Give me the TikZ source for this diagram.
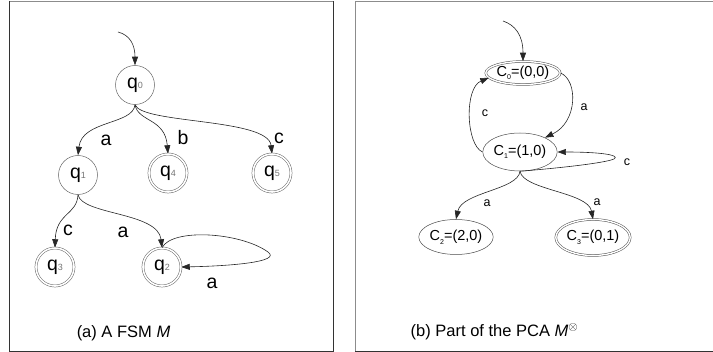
\documentclass[tikz,border=0pt]{standalone}
\usepackage{fontspec}
\setmainfont{Liberation Sans}
\usetikzlibrary{arrows.meta,shapes.geometric}
\newcommand{\myq}[1]{q\textcolor{black!55}{\fontsize{9}{9}\selectfont #1}}
\newcommand{\myc}[2]{C\raisebox{-3.5pt}{\fontsize{7}{7}\selectfont #1}=#2}
\begin{document}
\begin{tikzpicture}[x=1pt,y=-1pt,
  every node/.style={inner sep=0pt},
  st/.style={circle,draw=black!60,line width=0.5pt,minimum size=39pt,font=\fontsize{19.5}{19.5}\selectfont},
  acc/.style={st,double,double distance=1.6pt,minimum size=38pt},
  ell/.style={ellipse,draw=black!70,line width=0.5pt,font=\fontsize{14.5}{14.5}\selectfont},
  accell/.style={ell,double,double distance=1.4pt},
  edge/.style={draw=black!85,line width=0.6pt,-{Triangle[length=8.5pt,width=6pt]}},
  lab/.style={font=\fontsize{19.5}{19.5}\selectfont},
  slab/.style={font=\fontsize{12.5}{12.5}\selectfont},
  captext/.style={font=\fontsize{16.5}{16.5}\selectfont}]
\useasboundingbox (0,0) rectangle (713,352);
% frames
\draw[black!45,line width=0.8pt] (9,1) -- (333,1);
\draw[black!80,line width=0.8pt] (9,1) -- (9,351) -- (333,351) -- (333,1);
\draw[black!45,line width=0.8pt] (355,351) -- (355,1) -- (713,1);
\draw[black!80,line width=0.8pt] (355,351) -- (713,351);
% left panel
\node[st]  (q0) at (135,85)  {\myq{0}};
\node[st]  (q1) at (78,175)  {\myq{1}};
\node[acc] (q4) at (168,173) {\myq{4}};
\node[acc] (q5) at (272,173) {\myq{5}};
\node[acc] (q3) at (55,267)  {\myq{3}};
\node[acc] (q2) at (162,267) {\myq{2}};
\coordinate (i0) at (118,32);
\draw[edge] (i0) .. controls (130,35) and (135,45) .. (q0.north);
\draw[edge] (q0.south) .. controls (133,125) and (82,120) .. (q1.north);
\draw[edge] (q0.south) .. controls (138,122) and (165,118) .. (q4.north);
\draw[edge] (q0.south) .. controls (142,124) and (268,118) .. (q5.north);
\draw[edge] (q1.south) .. controls (77,215) and (56,213) .. (q3.north);
\draw[edge] (q1.south) .. controls (82,215) and (158,212) .. (q2.north);
\draw[edge] (q2.north) .. controls (172,228) and (240,232) .. (268,252)
  .. controls (282,262) and (230,266) .. (q2.east);
\node[lab] (la1) at (106,140) {a};
\node[lab] (lb)  at (183,138) {b};
\node[lab] (lc1) at (279,138) {c};
\node[lab] (lc2) at (68,230)  {c};
\node[lab] (la2) at (123,232) {a};
\node[lab] (la3) at (212,283) {a};
\node[captext] (capa) at (123.5,333) {(a) A FSM \textit{M}};
% right panel
\node[accell,minimum width=70pt,minimum height=23pt] (C0) at (523,73) {\myc{0}{(0,0)}};
\node[ell,minimum width=65pt,minimum height=38pt] (C1) at (520,152) {\myc{1}{(1,0)}};
\node[ell,minimum width=68pt,minimum height=35pt] (C2) at (456,237) {\myc{2}{(2,0)}};
\node[accell,minimum width=67pt,minimum height=36pt] (C3) at (593,237.5) {\myc{3}{(0,1)}};
\coordinate (i1) at (503,21);
\draw[edge] (i1) .. controls (515,25) and (523,35) .. (C0.north);
\draw[edge] (C0.east) .. controls (578,80) and (578,122) .. (C1.30);
\draw[edge] (C1.west) .. controls (466,145) and (464,88) .. (C0.188);
\draw[edge] (C1.south) .. controls (560,168) and (605,163) .. (614,159)
  .. controls (621,155) and (600,152) .. (C1.east);
\draw[edge] (C1.south) .. controls (518,190) and (462,192) .. (C2.north);
\draw[edge] (C1.south) .. controls (523,190) and (588,192) .. (C3.north);
\node[slab] (ra1) at (584,107) {a};
\node[slab] (rc1) at (485,113) {c};
\node[slab] (rc2) at (627,162) {c};
\node[slab] (ra2) at (487,203) {a};
\node[slab] (ra3) at (597,202) {a};
\node[captext] (capb) at (494.5,332) {(b) Part of the PCA \textit{M}$^{\otimes}$};
\end{tikzpicture}
\end{document}
